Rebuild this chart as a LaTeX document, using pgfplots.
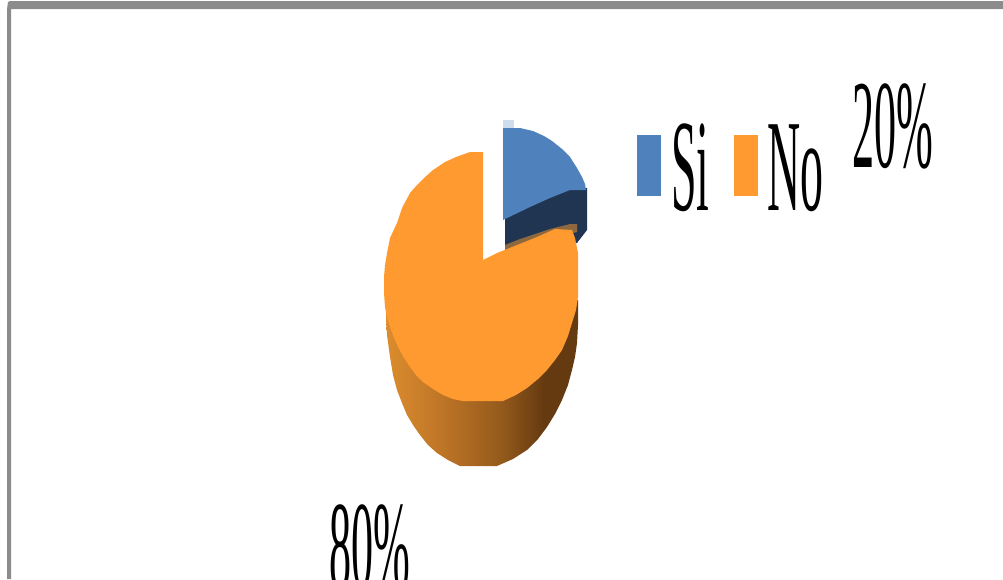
\documentclass[border=0pt]{standalone}
\usepackage{fontspec}
\usepackage{graphicx}
\usepackage{pgfplots}
\pgfplotsset{compat=1.18}
\setmainfont{Liberation Serif}
\definecolor{sgray}{HTML}{8C8C8C}
\definecolor{sblue}{HTML}{4F81BD}
\definecolor{spale}{HTML}{CFDCEC}
\definecolor{sdark}{HTML}{1F3552}
\definecolor{sbrown}{HTML}{8E683F}
\definecolor{sorange}{HTML}{FF9A30}
\pgfdeclarehorizontalshading{sideg}{100bp}{
  rgb(0bp)=(0.85,0.54,0.17);
  rgb(25bp)=(0.86,0.55,0.18);
  rgb(40bp)=(0.74,0.455,0.15);
  rgb(55bp)=(0.58,0.353,0.11);
  rgb(66bp)=(0.40,0.227,0.063);
  rgb(75bp)=(0.40,0.227,0.063);
  rgb(100bp)=(0.40,0.227,0.063)}
\newcommand{\lab}[1]{\fontsize{#1pt}{#1pt}\selectfont}
\begin{document}
\begin{tikzpicture}[x=1pt,y=1pt]
\clip (0,0) rectangle (1003,579);
\begin{axis}[
  at={(0,0)},anchor=south west,
  width=1003pt,height=579pt,scale only axis,
  xmin=0,xmax=1003,ymin=0,ymax=579,y dir=reverse,
  hide axis,clip=false,
  every axis plot/.append style={draw=none,forget plot}]
% frame
\addplot[fill=sgray] coordinates {(7,9) (8,2) (10,1) (1003,1) (1003,9) (11,9) (11,579) (7,579)} -- cycle;
% orange side
\addplot[shading=sideg] coordinates {
(386,300) (386,318) (387,335) (390,357) (393,375) (397,390) (402,403) (407,415) (413,425) (420,435)
(428,445) (437,453) (448,460) (460,466)
(497,466) (513,459) (527,450) (538,439) (547,427) (555,414) (562,400) (568,385) (572,370) (575,357) (577,343) (578,325) (578,300) (500,300)} -- cycle;
% blue side
\addplot[fill=sdark] coordinates {(505,216) (570,188) (587,188) (587,230) (577,243) (505,250)} -- cycle;
\addplot[fill=sbrown] coordinates {(505,245) (520,239) (550,229) (570,224) (577,224) (577,232) (505,250)} -- cycle;
% blue top
\addplot[fill=spale] coordinates {(503,120) (514,120) (514,128) (503,128)} -- cycle;
\addplot[fill=sblue] coordinates {
(503,128) (520,128) (533,131) (544,136) (552,141) (562,149) (570,157) (577,168) (582,177) (585,184) (586,190)
(570,190) (550,198) (530,207) (503,220)} -- cycle;
% orange top
\addplot[fill=sorange] coordinates {
(483,260) (483,152) (470,152) (456,157) (445,162) (433,170) (424,178) (417,185) (410,193) (402,208) (397,223) (390,238)
(387,253) (385,265) (384,277) (384,293) (385,307) (387,318) (390,327) (394,338) (398,347) (404,358) (410,367) (416,375) (423,382) (433,389) (443,395) (453,399) (463,401) (503,401)
(516,395) (527,388) (538,379) (547,370) (555,360) (562,350) (568,336) (572,323) (576,310) (578,297) (578,253) (575,238) (572,230) (555,229) (537,237)
(517,245) (497,253)} -- cycle;
% legend keys
\addplot[fill=sblue] coordinates {(637,135) (661,135) (661,196) (637,196)} -- cycle;
\addplot[fill=sorange] coordinates {(734,135) (758,135) (758,196) (734,196)} -- cycle;
% texts
\node[anchor=base west,inner sep=0pt,outer sep=0pt] at (axis cs:671,210) {\lab{131}\scalebox{0.35}[1]{Si}};
\node[anchor=base west,inner sep=0pt,outer sep=0pt] at (axis cs:767,210) {\lab{131}\scalebox{0.35}[1]{No}};
\node[anchor=base west,inner sep=0pt,outer sep=0pt] at (axis cs:852,167) {\lab{126}\scalebox{0.35}[1]{20\%}};
\node[anchor=base west,inner sep=0pt,outer sep=0pt] at (axis cs:329,588) {\lab{126}\scalebox{0.35}[1]{80\%}};
\end{axis}
\end{tikzpicture}
\end{document}
